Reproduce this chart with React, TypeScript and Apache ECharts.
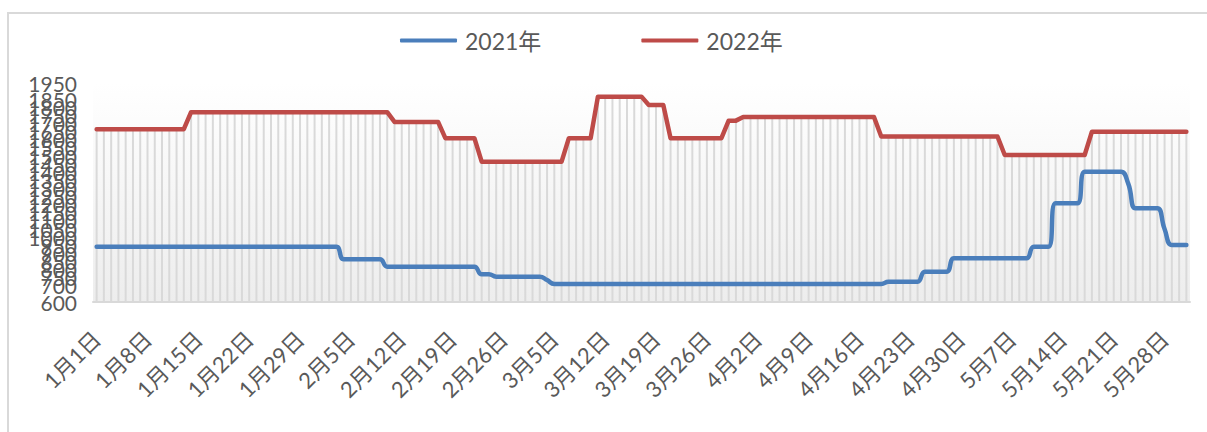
import React, { useEffect, useRef } from 'react';
import * as echarts from 'echarts';

// Daily categories, 1 Jan – 31 May
const monthLengths = [31, 28, 31, 30, 31];
const categories: string[] = [];
monthLengths.forEach((len, m) => {
  for (let d = 1; d <= len; d++) categories.push(`${m + 1}月${d}日`);
});

const seriesNames = ['2021年', '2022年'];

// 2021年 values (Jan, Feb, Mar, Apr, May)
const values2021: number[] = [
  941, 941, 941, 941, 941, 941, 941, 941, 941, 941, 941, 941, 941, 941, 941, 941, 941, 941, 941, 941, 941, 941, 941, 941, 941, 941, 941, 941, 941, 941, 941,
  941, 941, 941, 863, 863, 863, 863, 863, 863, 818, 818, 818, 818, 818, 818, 818, 818, 818, 818, 818, 818, 818, 771, 771, 756, 756, 756, 756,
  756, 756, 756, 735, 711, 711, 711, 711, 711, 711, 711, 711, 711, 711, 711, 711, 711, 711, 711, 711, 711, 711, 711, 711, 711, 711, 711, 711, 711, 711, 711,
  711, 711, 711, 711, 711, 711, 711, 711, 711, 711, 711, 711, 711, 711, 711, 711, 711, 711, 711, 725, 725, 725, 725, 725, 787, 787, 787, 787, 869, 869,
  869, 869, 869, 869, 869, 869, 869, 869, 869, 941, 941, 941, 1208, 1208, 1208, 1208, 1403, 1403, 1403, 1403, 1403, 1403, 1330, 1178, 1178, 1178, 1178, 1050, 951, 951, 951,
];

// 2022年 values (Jan, Feb, Mar, Apr, May)
const values2022: number[] = [
  1665, 1665, 1665, 1665, 1665, 1665, 1665, 1665, 1665, 1665, 1665, 1665, 1665, 1770, 1770, 1770, 1770, 1770, 1770, 1770, 1770, 1770, 1770, 1770, 1770, 1770, 1770, 1770, 1770, 1770, 1770,
  1770, 1770, 1770, 1770, 1770, 1770, 1770, 1770, 1770, 1770, 1710, 1710, 1710, 1710, 1710, 1710, 1710, 1610, 1610, 1610, 1610, 1610, 1465, 1465, 1465, 1465, 1465, 1465,
  1465, 1465, 1465, 1465, 1465, 1465, 1610, 1610, 1610, 1610, 1866, 1866, 1866, 1866, 1866, 1866, 1866, 1815, 1815, 1815, 1610, 1610, 1610, 1610, 1610, 1610, 1610, 1610, 1718, 1718, 1740,
  1740, 1740, 1740, 1740, 1740, 1740, 1740, 1740, 1740, 1740, 1740, 1740, 1740, 1740, 1740, 1740, 1740, 1740, 1620, 1620, 1620, 1620, 1620, 1620, 1620, 1620, 1620, 1620, 1620, 1620,
  1620, 1620, 1620, 1620, 1620, 1506, 1506, 1506, 1506, 1506, 1506, 1506, 1506, 1506, 1506, 1506, 1506, 1650, 1650, 1650, 1650, 1650, 1650, 1650, 1650, 1650, 1650, 1650, 1650, 1650, 1650,
];

const yMin = 600;
const yMax = 1950;
const yStep = 50;

const FONT = "Lato, 'Noto Sans CJK SC', sans-serif";
const TEXT = '#595959';

export default function App() {
  const ref = useRef<HTMLDivElement>(null);

  useEffect(() => {
    document.body.style.margin = '0';
    if (!ref.current) return;
    const chart = echarts.init(ref.current, null, { renderer: 'svg' });
    const dropValues = values2022.map((v, i) => Math.max(v, values2021[i]));
    chart.setOption({
      animation: false,
      textStyle: { fontFamily: FONT },
      graphic: [
        {
          type: 'rect',
          silent: true,
          z: -10,
          shape: { x: 8, y: 13, width: 1400, height: 600 },
          style: { fill: 'none', stroke: '#d9d9d9', lineWidth: 2 },
        },
      ],
      legend: {
        data: seriesNames,
        left: 395,
        top: 24,
        icon: 'roundRect',
        itemWidth: 57,
        itemHeight: 4,
        itemGap: 100,
        textStyle: { fontSize: 23, color: TEXT, fontFamily: FONT, padding: [0, 0, 0, 3] },
      },
      grid: {
        left: 93,
        right: 17,
        top: 83,
        bottom: 130,
        show: true,
        borderWidth: 0,
        backgroundColor: new echarts.graphic.LinearGradient(0, 0, 0, 1, [
          { offset: 0, color: '#ffffff' },
          { offset: 1, color: '#ededed' },
        ]),
      },
      xAxis: {
        type: 'category',
        data: categories,
        boundaryGap: true,
        axisLine: { lineStyle: { color: '#d9d9d9', width: 2 } },
        axisTick: { show: false },
        axisLabel: {
          interval: 6,
          rotate: 45,
          fontSize: 22,
          color: TEXT,
          fontFamily: FONT,
          margin: 33,
        },
        splitLine: { show: false },
      },
      yAxis: {
        type: 'value',
        min: yMin,
        max: yMax,
        interval: yStep,
        axisLine: { show: false },
        axisTick: { show: false },
        splitLine: { show: false },
        axisLabel: {
          fontSize: 21,
          color: TEXT,
          fontFamily: FONT,
          margin: 16,
          showMinLabel: true,
          showMaxLabel: true,
          hideOverlap: false,
          formatter: (v: number) => String(v),
        },
      },
      series: [
        {
          name: 'drop',
          type: 'bar',
          data: dropValues,
          barWidth: 2,
          itemStyle: { color: '#d9d9d9' },
          silent: true,
          z: 1,
          clip: true,
        },
        {
          name: seriesNames[0],
          type: 'line',
          data: values2021,
          smooth: 0.5,
          symbol: 'none',
          lineStyle: { color: '#4A7EBB', width: 4.5, cap: 'round', join: 'round' },
          itemStyle: { color: '#4A7EBB' },
          z: 3,
        },
        {
          name: seriesNames[1],
          type: 'line',
          data: values2022,
          smooth: false,
          symbol: 'none',
          lineStyle: { color: '#BE4B48', width: 4.5, cap: 'round', join: 'round' },
          itemStyle: { color: '#BE4B48' },
          z: 3,
        },
      ],
    });
    return () => chart.dispose();
  }, []);

  return <div ref={ref} style={{ width: 1207, height: 432 }} />;
}
